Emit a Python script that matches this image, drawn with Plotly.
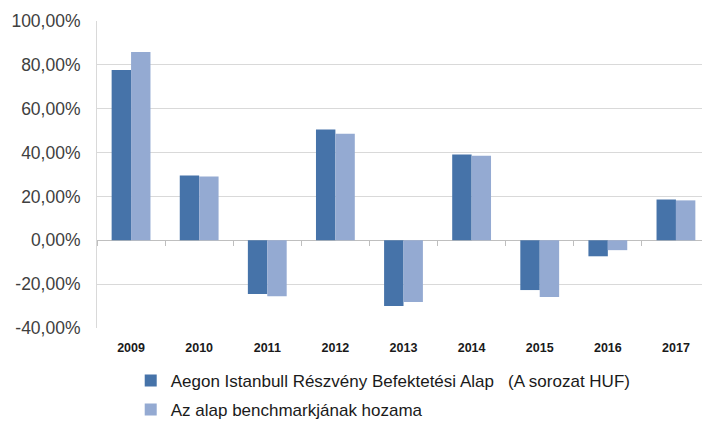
import plotly.graph_objects as go

years = ["2009", "2010", "2011", "2012", "2013", "2014", "2015", "2016", "2017"]
fund = [77.7, 29.5, -24.5, 50.5, -30.0, 39.1, -22.7, -7.3, 18.6]
benchmark = [85.9, 29.1, -25.5, 48.6, -28.2, 38.6, -25.9, -4.5, 18.2]
y_ticks = [-40, -20, 0, 20, 40, 60, 80, 100]
y_ticktext = [f"{v:.2f}".replace(".", ",") + "%" for v in y_ticks]
name_fund = "Aegon Istanbull Részvény Befektetési Alap   (A sorozat HUF)"
name_bench = "Az alap benchmarkjának hozama"

font_family = "Liberation Sans, Arial, sans-serif"
ymin, ymax = -40, 100

fig = go.Figure()
fig.add_trace(go.Bar(x=years, y=fund, name=name_fund, marker_color="#4673A9",
                     marker_line_width=0, legendgroup="a"))
fig.add_trace(go.Bar(x=years, y=benchmark, name=name_bench, marker_color="#94AAD2",
                     marker_line_width=0, legendgroup="b"))
# invisible helper trace for the tick marks along the zero line
fig.add_trace(go.Scatter(x=years, y=[0] * len(years), xaxis="x2", mode="lines",
                         line=dict(width=0), opacity=0, showlegend=False,
                         hoverinfo="skip"))

# the page body has an 8px default margin, so the figure is sized to fit
fig.update_layout(
    width=702, height=413,
    margin=dict(l=89, r=0, t=13, b=93, autoexpand=False),
    paper_bgcolor="white", plot_bgcolor="white",
    barmode="group", bargap=0.43, bargroupgap=0,
    font=dict(family=font_family, color="#404040"),
    xaxis=dict(type="category", showgrid=False, showline=False, ticks="",
               tickfont=dict(size=12.5, color="#1a1a1a", family=font_family,
                             weight="bold"),
               ticklabelstandoff=10, zeroline=False),
    xaxis2=dict(type="category", overlaying="x", anchor="free",
                position=(0 - ymin) / (ymax - ymin), matches="x",
                showticklabels=False, showgrid=False, showline=False,
                ticks="outside", tickson="boundaries", ticklen=5,
                tickcolor="#BFBFBF", tickwidth=1),
    yaxis=dict(range=[ymin, ymax], tickmode="array", tickvals=y_ticks,
               ticktext=y_ticktext,
               showgrid=True, gridcolor="#D9D9D9", gridwidth=1,
               zeroline=True, zerolinecolor="#BFBFBF", zerolinewidth=1,
               showline=True, linecolor="#D9D9D9", linewidth=1,
               tickfont=dict(size=17.5, color="#404040"), ticks="",
               ticklabelstandoff=12),
    legend=dict(orientation="v", x=0.055, xanchor="left", y=-0.1135,
                yanchor="top", font=dict(size=17, color="#1a1a1a"),
                itemwidth=30, tracegroupgap=4, bgcolor="rgba(0,0,0,0)"),
    showlegend=True,
)

fig.write_html("out.html")
